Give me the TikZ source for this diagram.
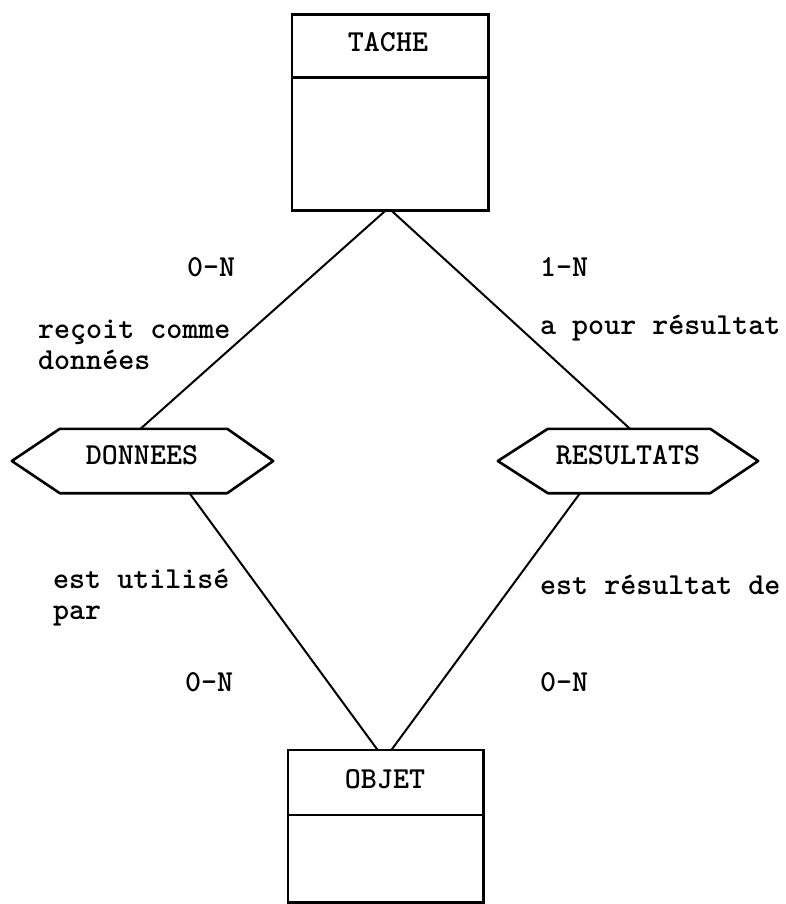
\documentclass[tikz,border=0pt]{standalone}
\usepackage{fontspec}
\begin{document}
\begin{tikzpicture}[x=1pt,y=-1pt,
  line/.style={line width=2pt},
  boxline/.style={line width=2.6pt},
  entbox/.style={draw=none,rectangle,inner sep=0pt},
  boxlabel/.style={font=\ttfamily\fontsize{30.5}{34}\selectfont\bfseries},
  card/.style={font=\ttfamily\fontsize{30.5}{35}\selectfont\bfseries,anchor=west,inner sep=0pt},
  rolelabel/.style={font=\ttfamily\fontsize{30.5}{31}\selectfont\bfseries,anchor=west,align=left,inner sep=0pt},
  hexnode/.style={draw=none,rectangle,inner sep=0pt,minimum height=64pt}]
\useasboundingbox (0,0) rectangle (786,904);
% TACHE
\node[entbox,minimum width=196pt,minimum height=195pt] (tache) at (390,112.5) {};
\draw[boxline] (tache.north west) rectangle (tache.south east);
\draw[boxline] ([yshift=-63pt]tache.north west) -- ([yshift=-63pt]tache.north east);
\node[boxlabel] (tachelbl) at (388,42) {TACHE};
% OBJET
\node[entbox,minimum width=195pt,minimum height=152pt] (objet) at (385.5,826) {};
\draw[boxline] (objet.north west) rectangle (objet.south east);
\draw[boxline] ([yshift=-65pt]objet.north west) -- ([yshift=-65pt]objet.north east);
\node[boxlabel] (objetlbl) at (385,779) {OBJET};
% DONNEES hexagon
\node[hexnode,minimum width=261pt] (donnees) at (142.5,461) {};
\draw[boxline,line join=round] (donnees.west) -- ([xshift=48pt]donnees.north west) -- ([xshift=-46pt]donnees.north east)
  -- (donnees.east) -- ([xshift=-46pt]donnees.south east) -- ([xshift=48pt]donnees.south west) -- cycle;
\node[boxlabel] (donneeslbl) at (142,455) {DONNEES};
% RESULTATS hexagon
\node[hexnode,minimum width=260pt] (resultats) at (628,461) {};
\draw[boxline,line join=round] (resultats.west) -- ([xshift=50pt]resultats.north west) -- ([xshift=-48pt]resultats.north east)
  -- (resultats.east) -- ([xshift=-48pt]resultats.south east) -- ([xshift=50pt]resultats.south west) -- cycle;
\node[boxlabel] (resultatslbl) at (628,455) {RESULTATS};
% connectors
\draw[line] ([xshift=-4pt]tache.south) -- ([xshift=-2pt]donnees.north);
\draw[line] ([xshift=1pt]tache.south) -- ([xshift=2pt]resultats.north);
\draw[line] ([xshift=47pt]donnees.south) -- ([xshift=-8pt]objet.north);
\draw[line] ([xshift=-48pt]resultats.south) -- ([xshift=6pt]objet.north);
% labels
\node[card] (c1) at (187,267) {0-N};
\node[card] (c2) at (540,267) {1-N};
\node[card] (c3) at (185,682) {0-N};
\node[card] (c4) at (540,682) {0-N};
\node[rolelabel] (r1) at (38,344.5) {reçoit comme\\données};
\node[rolelabel] (r2) at (540,328) {a pour résultat};
\node[rolelabel] (r3) at (53,598) {est utilisé\\par};
\node[rolelabel] (r4) at (540,585) {est résultat de};
\end{tikzpicture}
\end{document}
